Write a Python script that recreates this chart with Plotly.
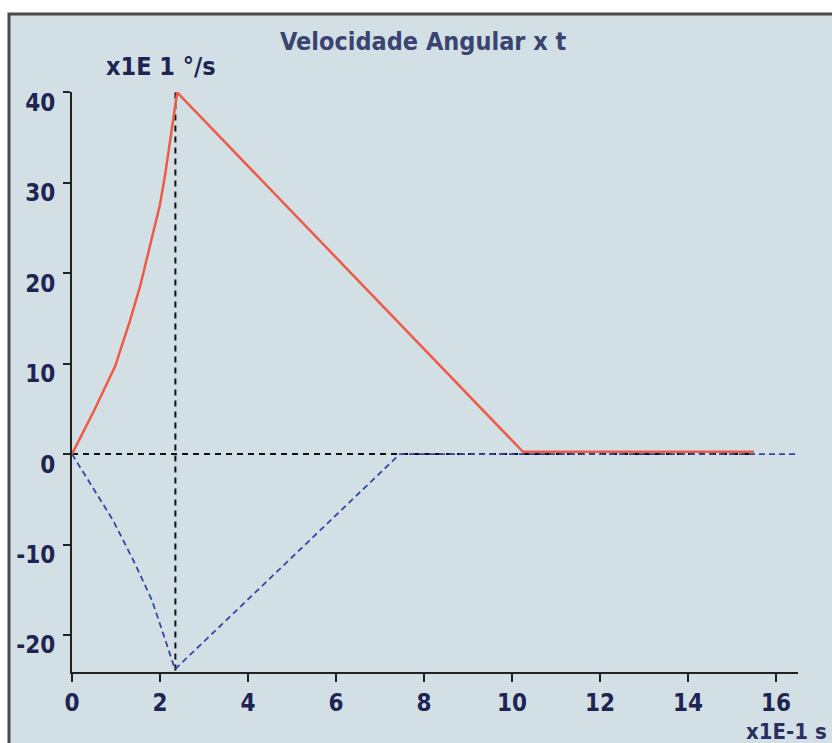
import plotly.graph_objects as go

# Data (t in x1E-1 s, angular velocity in x1E 1 °/s)
red_t = [0, 0.5, 0.98, 1.32, 1.55, 1.73, 2.0, 2.12, 2.23, 2.39, 10.25, 15.5]
red_w = [0, 4.8, 9.7, 14.8, 18.6, 22.2, 27.6, 31.0, 34.6, 40.0, 0.25, 0.25]

blue_t = [0, 0.48, 0.93, 1.43, 1.82, 2.11, 2.34, 7.45, 16.5]
blue_w = [0, -3.8, -7.3, -12.1, -16.2, -20.4, -23.8, 0, 0]

zero_t = [0, 15.5]
zero_w = [0, 0]
peak_t = [2.35, 2.35]
peak_w = [40, -24.1]

x_ticks = [0, 2, 4, 6, 8, 10, 12, 14, 16]
y_ticks = [-20, -10, 0, 10, 20, 30, 40]

FONT = "DejaVu Sans Condensed, Liberation Sans Narrow, Arial Narrow, sans-serif"
BG = "#d2e0e6"
NAVY = "#1f2552"

fig = go.Figure()
fig.add_trace(go.Scatter(x=zero_t, y=zero_w, mode="lines",
                         line=dict(color="#111111", width=2, dash="6px,5px"), hoverinfo="skip"))
fig.add_trace(go.Scatter(x=peak_t, y=peak_w, mode="lines",
                         line=dict(color="#111111", width=2, dash="6px,5px"), hoverinfo="skip"))
fig.add_trace(go.Scatter(x=blue_t, y=blue_w, mode="lines",
                         line=dict(color="#3445a3", width=1.8, dash="6px,4px")))
fig.add_trace(go.Scatter(x=red_t, y=red_w, mode="lines",
                         line=dict(color="#ee5a45", width=2.5)))

# background frame (left & top border visible)
fig.add_shape(type="rect", xref="paper", yref="paper",
              x0=-0.0868, x1=1.2, y0=-0.3, y1=1.1345,
              fillcolor=BG, line=dict(color="#4a4a4a", width=3), layer="below")

fig.update_layout(
    width=832, height=743,
    margin=dict(l=72, r=34, t=92, b=71),
    paper_bgcolor="white",
    plot_bgcolor="rgba(0,0,0,0)",
    showlegend=False,
    font=dict(family=FONT, color=NAVY),
)
fig.update_xaxes(range=[0, 16.5], tickvals=x_ticks, ticktext=[str(v) for v in x_ticks],
                 showgrid=False, zeroline=False, showline=True, linecolor="#222222", linewidth=2,
                 ticks="outside", ticklen=8, tickwidth=2, tickcolor="#222222",
                 tickfont=dict(family=FONT, size=24, color=NAVY, weight="bold"),
                 ticklabelstandoff=0)
fig.update_yaxes(range=[-24.1, 40.05], tickvals=y_ticks, ticktext=[str(v) for v in y_ticks],
                 showgrid=False, zeroline=False, showline=True, linecolor="#222222", linewidth=2,
                 ticks="outside", ticklen=7, tickwidth=2, tickcolor="#222222",
                 tickfont=dict(family=FONT, size=24, color=NAVY, weight="bold"),
                 ticklabelshift=10, ticklabelstandoff=3)

fig.add_annotation(text="Velocidade Angular x t", xref="paper", yref="paper",
                   x=(423 - 72) / 726, y=(672 - 42) / 580, xanchor="center", yanchor="middle",
                   showarrow=False, font=dict(family=FONT, size=25, color="#3a4470", weight="bold"))
fig.add_annotation(text="x1E 1 °/s", xref="paper", yref="paper",
                   x=(104 - 72) / 726, y=(672 - 67) / 580, xanchor="left", yanchor="middle",
                   showarrow=False, font=dict(family=FONT, size=25, color=NAVY, weight="bold"))
fig.add_annotation(text="x1E-1 s", xref="paper", yref="paper",
                   x=(829 - 72) / 726, y=(672 - 731) / 580, xanchor="right", yanchor="middle",
                   showarrow=False, font=dict(family=FONT, size=22, color="#2a3060", weight="bold"))

fig.write_html("out.html")
